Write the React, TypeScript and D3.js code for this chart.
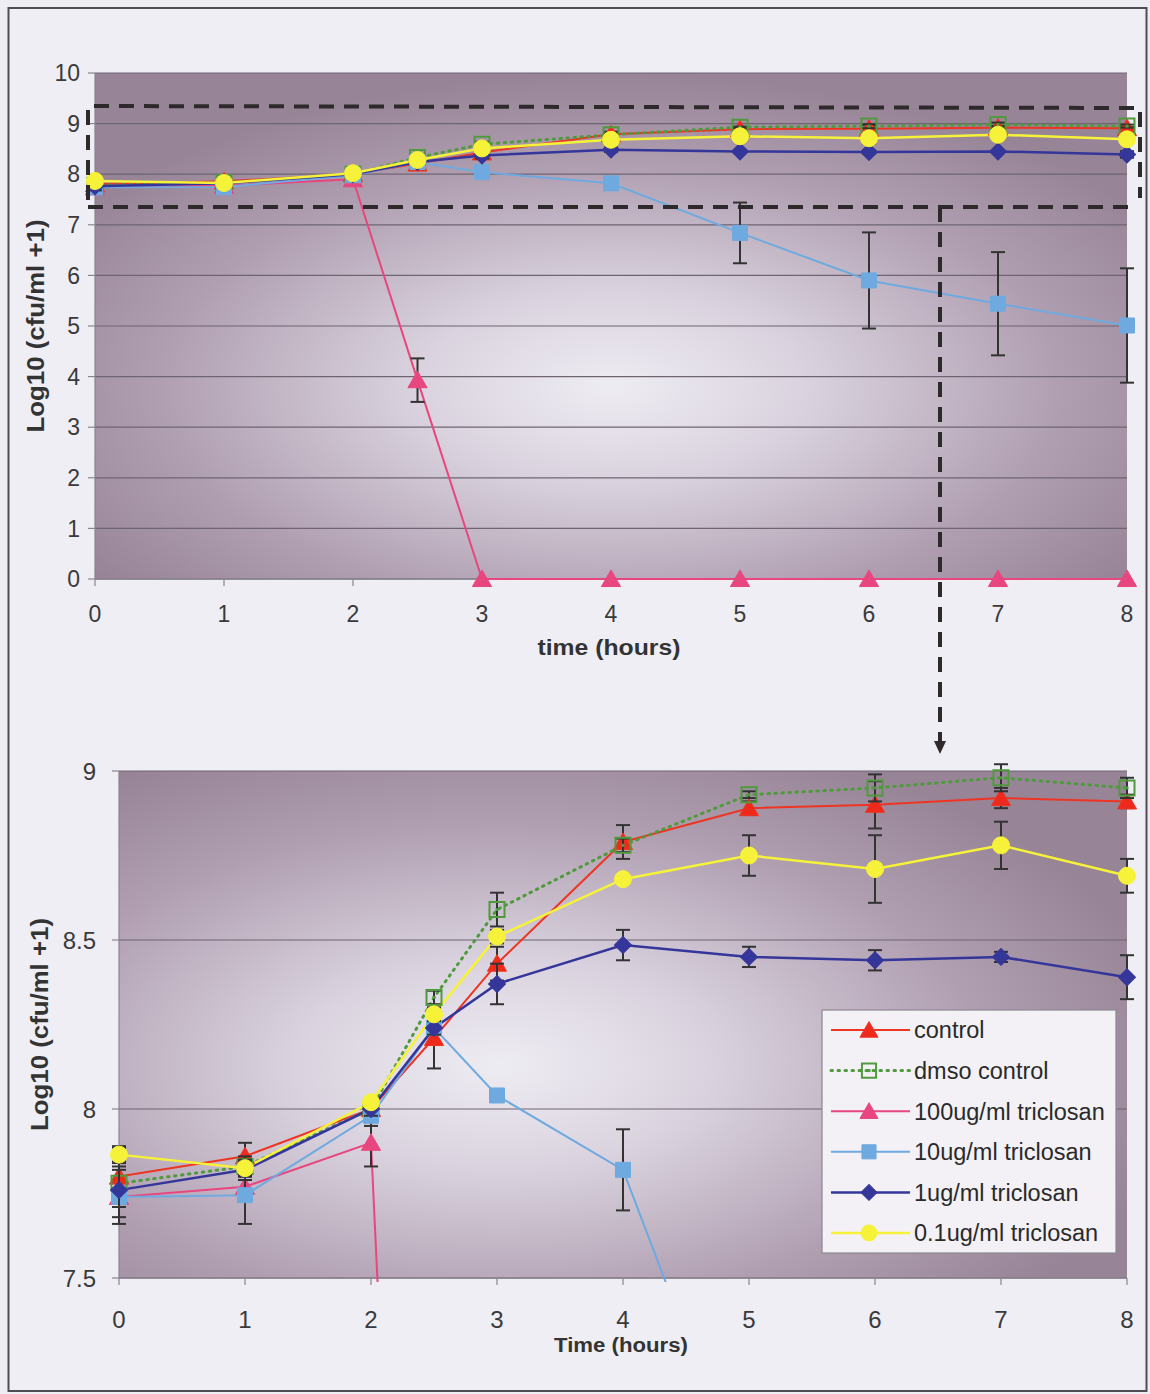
import React from 'react';
import * as d3 from 'd3';

// ---------- data ----------
const times = [0, 1, 2, 2.5, 3, 4, 5, 6, 7, 8];
const seriesNames = ['control', 'dmso control', '100ug/ml triclosan', '10ug/ml triclosan', '1ug/ml triclosan', '0.1ug/ml triclosan'];

const control = [7.80, 7.86, 8.00, 8.21, 8.43, 8.79, 8.89, 8.90, 8.92, 8.91];
const controlErr = [0.09, 0.04, 0.03, 0.09, 0.05, 0.05, 0.02, 0.07, 0.03, 0.02];
const dmso = [7.78, 7.83, 8.00, 8.33, 8.59, 8.78, 8.93, 8.95, 8.98, 8.95];
const dmsoErr = [0.05, 0.03, 0.02, 0.02, 0.05, 0.02, 0.01, 0.04, 0.04, 0.03];
const tric100 = [7.74, 7.77, 7.90, 3.93, 0, 0, 0, 0, 0, 0];
const tric100Err = [0.02, 0.03, 0.07, 0.43, 0, 0, 0, 0, 0, 0];
const tric10 = [7.74, 7.745, 7.98, 8.24, 8.04, 7.82, 6.84, 5.90, 5.44, 5.01];
const tric10Err = [0.08, 0.085, 0.03, 0.02, 0.01, 0.12, 0.60, 0.95, 1.02, 1.13];
const tric1 = [7.76, 7.82, 8.00, 8.24, 8.37, 8.485, 8.45, 8.44, 8.45, 8.39];
const tric1Err = [0.08, 0.03, 0.02, 0.02, 0.06, 0.045, 0.03, 0.03, 0.015, 0.065];
const tric01 = [7.865, 7.825, 8.02, 8.28, 8.51, 8.68, 8.75, 8.71, 8.78, 8.69];
const tric01Err = [0.02, 0.02, 0.01, 0.02, 0.02, 0.01, 0.06, 0.10, 0.07, 0.05];

const topYTicks = [0, 1, 2, 3, 4, 5, 6, 7, 8, 9, 10];
const bottomYTicks = [7.5, 8, 8.5, 9];
const xTicks = [0, 1, 2, 3, 4, 5, 6, 7, 8];

// ---------- styles ----------
const FONT = '"Liberation Sans", Arial, sans-serif';
type Marker = 'triangle' | 'squareOpen' | 'square' | 'diamond' | 'circle';
const seriesStyle: { color: string; fill: string; marker: Marker; dash?: string; width: number }[] = [
  { color: '#ee3524', fill: '#ee2a1c', marker: 'triangle', width: 2 },
  { color: '#4f9a3c', fill: 'none', marker: 'squareOpen', dash: '1.5,5.5', width: 3 },
  { color: '#e8467f', fill: '#e8467f', marker: 'triangle', width: 2 },
  { color: '#6eaae0', fill: '#6eaae0', marker: 'square', width: 2 },
  { color: '#35369a', fill: '#35369a', marker: 'diamond', width: 2.5 },
  { color: '#f6f23a', fill: '#f6f23a', marker: 'circle', width: 2.5 },
];
const values = [control, dmso, tric100, tric10, tric1, tric01];
const errors = [controlErr, dmsoErr, tric100Err, tric10Err, tric1Err, tric01Err];

function markerPath(m: Marker, s: number) {
  if (m === 'triangle') return d3.symbol(d3.symbolTriangle, s * s * 0.55)()!;
  if (m === 'circle') return d3.symbol(d3.symbolCircle, Math.PI * (s / 2) * (s / 2))()!;
  return d3.symbol(d3.symbolSquare, s * s * 0.78)()!;
}

function MarkerShape({ m, x, y, s, color, fill }: { m: Marker; x: number; y: number; s: number; color: string; fill: string }) {
  const d = markerPath(m, s);
  if (m === 'diamond') {
    return <path d={d3.symbol(d3.symbolSquare, s * s * 0.5)()!} transform={`translate(${x},${y}) rotate(45)`} fill={fill} stroke={color} strokeWidth={1} />;
  }
  if (m === 'squareOpen') {
    return (
      <g transform={`translate(${x},${y})`}>
        <path d={d} fill="none" stroke={color} strokeWidth={2} />
        <rect x={-1.5} y={-1.5} width={3} height={3} fill={color} />
      </g>
    );
  }
  if (m === 'triangle') {
    return <path d={d} transform={`translate(${x},${y + 2})`} fill={fill} stroke={color} strokeWidth={1} />;
  }
  return <path d={d} transform={`translate(${x},${y})`} fill={fill} stroke={color} strokeWidth={1} />;
}

type PanelProps = {
  id: string;
  x0: number; x1: number; y0: number; y1: number;
  yDomain: [number, number];
  yTicks: number[];
  tickFont: number;
  yLabelX: number;
  xLabelY: number;
  yTitleX: number;
  xTitle: string;
  xTitleY: number;
  xTitleLen: number;
  xTitleFont: number;
  markerSize: number;
  grad: { cx: string; cy: string; r: string };
};

function Panel(p: PanelProps) {
  const xs = d3.scaleLinear().domain([0, 8]).range([p.x0, p.x1]);
  const ys = d3.scaleLinear().domain(p.yDomain).range([p.y1, p.y0]);
  const inDom = (v: number) => v >= p.yDomain[0] - 1e-9 && v <= p.yDomain[1] + 1e-9;
  const line = d3.line<number>().x((_, i) => xs(times[i])).y((v) => ys(v));
  const clipId = `clip-${p.id}`;
  const gradId = `grad-${p.id}`;
  const yMid = (p.y0 + p.y1) / 2;
  return (
    <g>
      <defs>
        <radialGradient id={gradId} cx={p.grad.cx} cy={p.grad.cy} r={p.grad.r}>
          <stop offset="0%" stopColor="#eeecf3" />
          <stop offset="30%" stopColor="#dad3df" />
          <stop offset="70%" stopColor="#b09fb1" />
          <stop offset="100%" stopColor="#978497" />
        </radialGradient>
        <clipPath id={clipId}>
          <rect x={p.x0 - 12} y={p.y0 - 12} width={p.x1 - p.x0 + 24} height={p.y1 - p.y0 + 16} />
        </clipPath>
      </defs>
      <rect x={p.x0} y={p.y0} width={p.x1 - p.x0} height={p.y1 - p.y0} fill={`url(#${gradId})`} />
      {/* gridlines */}
      {p.yTicks.map((t) => (
        <line key={`g${t}`} x1={p.x0} x2={p.x1} y1={ys(t)} y2={ys(t)} stroke="#6e6570" strokeWidth={1.2} />
      ))}
      {/* axes */}
      <line x1={p.x0} x2={p.x0} y1={p.y0} y2={p.y1} stroke="#8a8490" strokeWidth={1.2} />
      <line x1={p.x0} x2={p.x1} y1={p.y1} y2={p.y1} stroke="#8a8490" strokeWidth={1.5} />
      {p.yTicks.map((t) => (
        <line key={`yt${t}`} x1={p.x0 - 7} x2={p.x0} y1={ys(t)} y2={ys(t)} stroke="#8a8490" strokeWidth={1.2} />
      ))}
      {xTicks.map((t) => (
        <line key={`xt${t}`} x1={xs(t)} x2={xs(t)} y1={p.y1} y2={p.y1 + 7} stroke="#8a8490" strokeWidth={1.2} />
      ))}
      {p.yTicks.map((t) => (
        <text key={`yl${t}`} x={p.yLabelX} y={ys(t)} dy="0.36em" textAnchor="end" fontFamily={FONT} fontSize={p.tickFont} fill="#3a3a3a">
          {String(t)}
        </text>
      ))}
      {xTicks.map((t) => (
        <text key={`xl${t}`} x={xs(t)} y={p.xLabelY} textAnchor="middle" fontFamily={FONT} fontSize={p.tickFont} fill="#3a3a3a">
          {String(t)}
        </text>
      ))}
      <text
        transform={`translate(${p.yTitleX},${yMid}) rotate(-90)`}
        textAnchor="middle"
        dy="0.35em"
        fontFamily={FONT}
        fontWeight="bold"
        fontSize={23}
        fill="#333"
        textLength={213}
        lengthAdjust="spacingAndGlyphs"
      >
        Log10 (cfu/ml +1)
      </text>
      <text
        x={(p.x0 + p.x1) / 2 - 2}
        y={p.xTitleY}
        textAnchor="middle"
        fontFamily={FONT}
        fontWeight="bold"
        fontSize={p.xTitleFont}
        fill="#333"
        textLength={p.xTitleLen}
        lengthAdjust="spacingAndGlyphs"
      >
        {p.xTitle}
      </text>
      {/* series lines */}
      <g clipPath={`url(#${clipId})`}>
        {values.map((vals, si) => {
          const st = seriesStyle[si];
          return (
            <path
              key={`l${si}`}
              d={line(vals)!}
              fill="none"
              stroke={st.color}
              strokeWidth={st.width}
              strokeDasharray={st.dash}
              strokeLinecap={st.dash ? 'round' : 'butt'}
            />
          );
        })}
      </g>
      {/* error bars and markers */}
      {values.map((vals, si) => {
        const st = seriesStyle[si];
        const errs = errors[si];
        return (
          <g key={`s${si}`}>
            <g clipPath={`url(#${clipId})`}>
              {vals.map((v, i) =>
                errs[i] > 0 && inDom(v) ? (
                  <g key={`e${i}`} stroke="#333" strokeWidth={2}>
                    <line x1={xs(times[i])} x2={xs(times[i])} y1={ys(v + errs[i])} y2={ys(v - errs[i])} />
                    <line x1={xs(times[i]) - 7} x2={xs(times[i]) + 7} y1={ys(v + errs[i])} y2={ys(v + errs[i])} />
                    <line x1={xs(times[i]) - 7} x2={xs(times[i]) + 7} y1={ys(v - errs[i])} y2={ys(v - errs[i])} />
                  </g>
                ) : null
              )}
            </g>
            {vals.map((v, i) =>
              inDom(v) ? (
                <MarkerShape key={`m${i}`} m={st.marker} x={xs(times[i])} y={ys(v)} s={p.markerSize} color={st.color} fill={st.fill} />
              ) : null
            )}
          </g>
        );
      })}
    </g>
  );
}

function Legend() {
  const x0 = 822, y0 = 1010, w = 294, h = 243;
  const rowY = (i: number) => 1030 + i * 40.6;
  return (
    <g>
      <rect x={x0} y={y0} width={w} height={h} fill="#f3f1f6" stroke="#8c8890" strokeWidth={1.2} />
      {seriesNames.map((name, i) => {
        const st = seriesStyle[i];
        const y = rowY(i);
        return (
          <g key={name}>
            <line x1={831} x2={910} y1={y} y2={y} stroke={st.color} strokeWidth={st.width} strokeDasharray={st.dash} strokeLinecap={st.dash ? 'round' : 'butt'} />
            <MarkerShape m={st.marker} x={869} y={y} s={16} color={st.color} fill={st.fill} />
            <text x={914} y={y} dy="0.36em" fontFamily={FONT} fontSize={23.5} fill="#2a2a2a">
              {name}
            </text>
          </g>
        );
      })}
    </g>
  );
}

export default function App() {
  return (
    <svg width={1150} height={1394} style={{ position: 'absolute', left: 0, top: 0, display: 'block' }}>
      <rect x={0} y={0} width={1150} height={1394} fill="#eeedf4" />
      <rect x={8.5} y={8} width={1138} height={1383} fill="#efeef5" stroke="#4e4e52" strokeWidth={2} />
      <Panel
        id="top"
        x0={95} x1={1127} y0={73} y1={579}
        yDomain={[0, 10]}
        yTicks={topYTicks}
        tickFont={23}
        yLabelX={80}
        xLabelY={622}
        yTitleX={36}
        xTitle="time (hours)"
        xTitleY={655}
        xTitleLen={143}
        xTitleFont={22}
        markerSize={17}
        grad={{ cx: '50%', cy: '62%', r: '62%' }}
      />
      <Panel
        id="bottom"
        x0={119} x1={1127} y0={771} y1={1278}
        yDomain={[7.5, 9]}
        yTicks={bottomYTicks}
        tickFont={24}
        yLabelX={96}
        xLabelY={1328}
        yTitleX={40}
        xTitle="Time (hours)"
        xTitleY={1352}
        xTitleLen={134}
        xTitleFont={20}
        markerSize={17}
        grad={{ cx: '38%', cy: '58%', r: '68%' }}
      />
      <Legend />
      {/* dashed zoom box and arrow */}
      <g fill="none" stroke="#2e2a2c" strokeWidth={4} strokeDasharray="15,10">
        <polyline points="88,200 88,106 1140,108 1140,198" />
        <line x1={88} y1={207} x2={1135} y2={207} />
        <line x1={940} y1={207} x2={940} y2={742} />
      </g>
      <path d="M934,741 L946,741 L940,754 Z" fill="#2e2a2c" />
    </svg>
  );
}
